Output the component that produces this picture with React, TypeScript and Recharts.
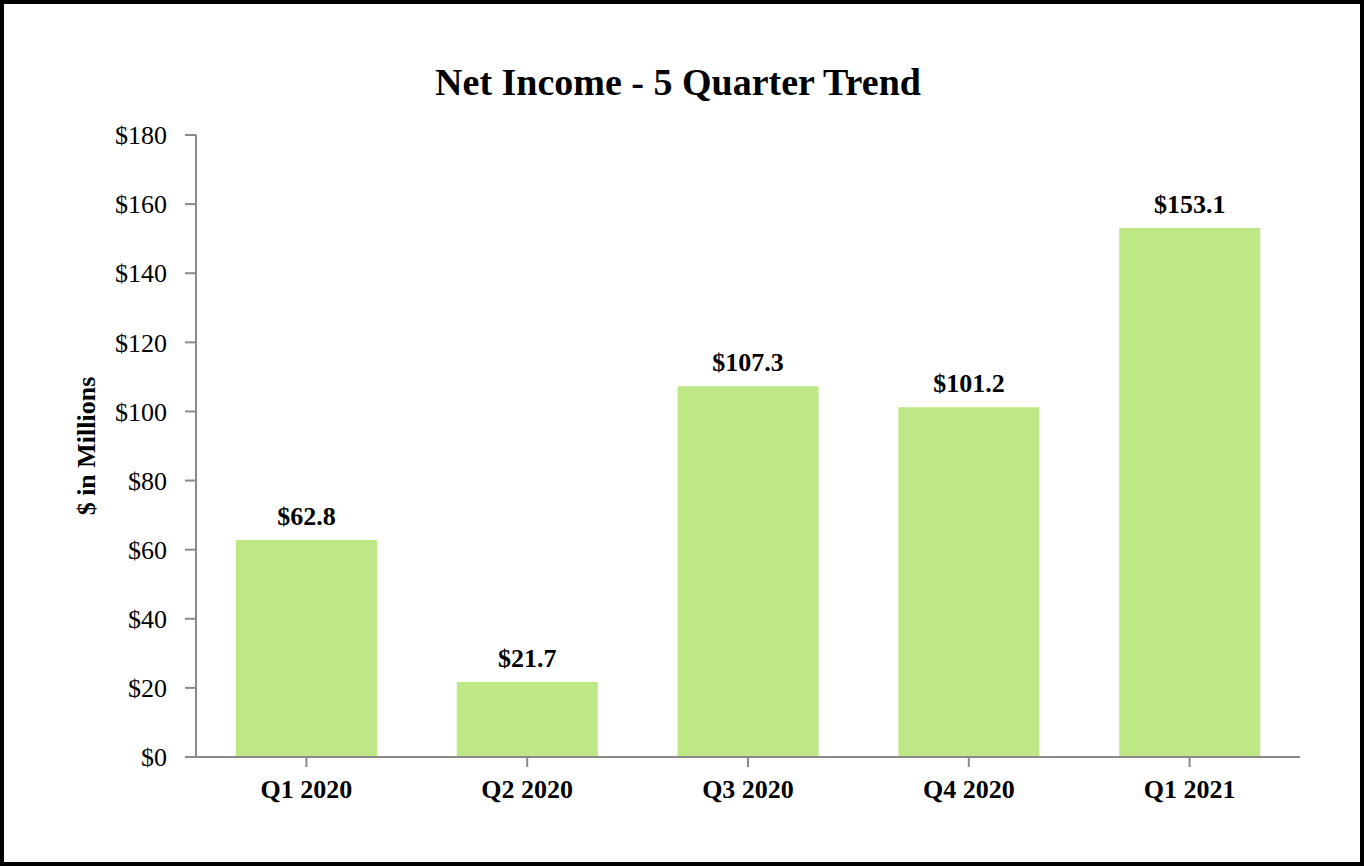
import { Bar, BarChart, LabelList, XAxis, YAxis } from "recharts";

const quarters = ["Q1 2020", "Q2 2020", "Q3 2020", "Q4 2020", "Q1 2021"];
const netIncome = [62.8, 21.7, 107.3, 101.2, 153.1];
const yTicks = [0, 20, 40, 60, 80, 100, 120, 140, 160, 180];

const data = quarters.map((q, i) => ({ quarter: q, value: netIncome[i] }));

const font = '"Liberation Serif", "Times New Roman", serif';
const axisColor = "#8a8a8a";

function YLabel() {
  return (
    <text
      x={95}
      y={446}
      transform="rotate(-90 95 446)"
      textAnchor="middle"
      fontFamily={font}
      fontSize={26}
      fontWeight="bold"
      fill="#000"
    >
      $ in Millions
    </text>
  );
}

export default function App() {
  return (
    <div
      style={{
        position: "absolute",
        left: 0,
        top: 0,
        width: 1364,
        height: 866,
        boxSizing: "border-box",
        border: "4px solid #000",
        background: "#fff",
        fontFamily: font,
      }}
    >
      <div
        style={{
          position: "absolute",
          left: 0,
          right: 0,
          top: 58,
          textAlign: "center",
          fontSize: 38,
          fontWeight: "bold",
          lineHeight: "40px",
          color: "#000",
          paddingRight: 8,
        }}
      >
        Net Income - 5 Quarter Trend
      </div>
      <div style={{ position: "absolute", left: -4, top: -4 }}>
        <BarChart
          width={1364}
          height={866}
          data={data}
          margin={{ top: 135, right: 64, bottom: 0, left: 96 }}
          barCategoryGap={40}
        >
          <XAxis
            dataKey="quarter"
            stroke={axisColor}
            strokeWidth={2}
            tickSize={10}
            tickMargin={13}
            tick={{ fill: "#000", fontFamily: font, fontSize: 26, fontWeight: "bold" }}
            height={109}
          />
          <YAxis
            domain={[0, 180]}
            ticks={yTicks}
            interval={0}
            width={100}
            stroke={axisColor}
            strokeWidth={2}
            tickSize={11}
            tickMargin={18}
            tick={{ fill: "#000", fontFamily: font, fontSize: 26 }}
            tickFormatter={(v: number) => `$${v}`}
            label={{ content: () => <YLabel /> }}
          />
          <Bar dataKey="value" fill="#bee786" isAnimationActive={false}>
            <LabelList
              dataKey="value"
              position="top"
              offset={15}
              formatter={(v: number) => `$${v.toFixed(1)}`}
              style={{ fill: "#000", fontFamily: font, fontSize: 26, fontWeight: "bold" }}
            />
          </Bar>
        </BarChart>
      </div>
    </div>
  );
}
